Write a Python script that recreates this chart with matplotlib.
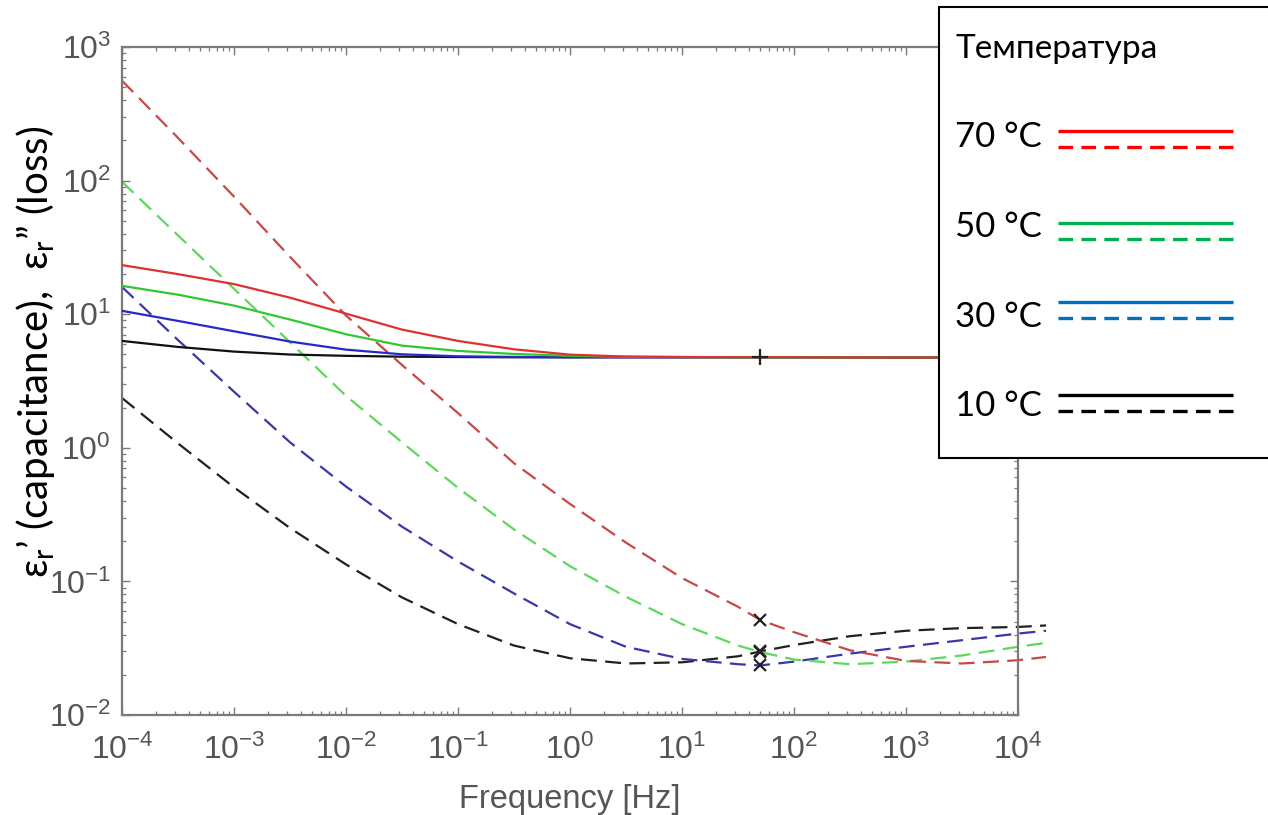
import matplotlib
matplotlib.use("Agg")
import matplotlib.pyplot as plt
from matplotlib.patches import Rectangle
from matplotlib.lines import Line2D
from matplotlib.ticker import (FixedLocator, LogLocator,
                               LogFormatterSciNotation, NullFormatter)

plt.rcParams["font.family"] = ["Liberation Sans", "DejaVu Sans"]
plt.rcParams["mathtext.fontset"] = "custom"
plt.rcParams["mathtext.rm"] = "Liberation Sans"
plt.rcParams["axes.unicode_minus"] = False
plt.rcParams["lines.scale_dashes"] = False

# ---- data -------------------------------------------------------------
freq_hz = [1e-4, 3.16e-4, 1e-3, 3.16e-3, 1e-2, 3.16e-2, 0.1, 0.316, 1.0,
           3.16, 10.0, 31.6, 50.0, 100.0, 316.0, 1000.0, 3160.0, 10000.0,
           17800.0]

# real part (capacitance)
cap_70 = [23.3, 19.95, 16.8, 13.3, 10.1, 7.67, 6.31, 5.46, 4.98, 4.82,
          4.78, 4.76, 4.76, 4.76, 4.75, 4.74, 4.73, 4.72, 4.72]
cap_50 = [16.3, 14.0, 11.6, 9.12, 7.08, 5.82, 5.31, 5.04, 4.88, 4.80,
          4.78, 4.76, 4.76, 4.76, 4.75, 4.74, 4.73, 4.72, 4.72]
cap_30 = [10.6, 8.91, 7.45, 6.24, 5.43, 5.01, 4.84, 4.79, 4.76, 4.76,
          4.76, 4.76, 4.76, 4.76, 4.75, 4.74, 4.73, 4.72, 4.72]
cap_10 = [6.31, 5.69, 5.25, 4.99, 4.88, 4.81, 4.78, 4.76, 4.76, 4.76,
          4.76, 4.76, 4.76, 4.76, 4.75, 4.74, 4.73, 4.72, 4.72]

# imaginary part (loss)
loss_70 = [560, 209, 75.9, 26.9, 9.77, 4.17, 1.82, 0.767, 0.380, 0.195,
           0.106, 0.0646, 0.0514, 0.0417, 0.0305, 0.0254, 0.0243, 0.0257,
           0.0272]
loss_50 = [98.0, 38.9, 15.5, 6.17, 2.45, 1.10, 0.501, 0.245, 0.130, 0.0767,
           0.0479, 0.0331, 0.0296, 0.0260, 0.0240, 0.0251, 0.0279, 0.0324,
           0.0347]
loss_30 = [16.0, 6.41, 2.63, 1.10, 0.513, 0.257, 0.141, 0.0813, 0.0479,
           0.0324, 0.0263, 0.0240, 0.0235, 0.0251, 0.0288, 0.0324, 0.0363,
           0.0407, 0.0427]
loss_10 = [2.36, 1.08, 0.506, 0.251, 0.134, 0.0759, 0.0479, 0.0331, 0.0266,
           0.0243, 0.0248, 0.0275, 0.0299, 0.0334, 0.0389, 0.0427, 0.0447,
           0.0456, 0.0468]

temp_labels = ["70 °C", "50 °C", "30 °C", "10 °C"]
marker_freq = 50.0
x_decades = [1e-4, 1e-3, 1e-2, 1e-1, 1e0, 1e1, 1e2, 1e3, 1e4]
y_decades = [1e-2, 1e-1, 1e0, 1e1, 1e2, 1e3]

# ---- figure -----------------------------------------------------------
W, H = 1268, 815
fig = plt.figure(figsize=(W / 100, H / 100), dpi=100)
ax = fig.add_axes([122 / W, 1 - 715 / H, 896 / W, 668 / H])
ax.set_xscale("log")
ax.set_yscale("log")

solid_cols = ["#e03030", "#30c830", "#2828c8", "#101010"]
dash_cols = ["#c84848", "#5cd85c", "#3838a8", "#202020"]
caps = [cap_70, cap_50, cap_30, cap_10]
losses = [loss_70, loss_50, loss_30, loss_10]

for loss, c in zip(losses[::-1], dash_cols[::-1]):
    ax.plot(freq_hz, loss, color=c, lw=1.6, dashes=(11.5, 6), clip_on=False,
            zorder=2)
for cap, c in zip(caps[::-1], solid_cols[::-1]):
    ax.plot(freq_hz, cap, color=c, lw=1.6, zorder=3)

i50 = freq_hz.index(marker_freq)
for loss in losses:
    ax.plot(marker_freq, loss[i50], "x", color="#222222", ms=9, mew=1.6,
            zorder=4)
ax.plot(marker_freq, cap_70[i50], "+", color="#222222", ms=11, mew=1.6,
        zorder=4)

ax.set_xlim(x_decades[0], x_decades[-1])
ax.set_ylim(y_decades[0], y_decades[-1])

axis_gray = "#7a7a7a"
text_gray = "#555555"
for s in ax.spines.values():
    s.set_color(axis_gray)
    s.set_linewidth(1.6)

ax.xaxis.set_major_locator(FixedLocator(x_decades))
ax.yaxis.set_major_locator(FixedLocator(y_decades))
ax.xaxis.set_minor_locator(LogLocator(base=10, subs=range(2, 10), numticks=20))
ax.yaxis.set_minor_locator(LogLocator(base=10, subs=range(2, 10), numticks=20))
ax.xaxis.set_major_formatter(LogFormatterSciNotation())
ax.yaxis.set_major_formatter(LogFormatterSciNotation())
ax.xaxis.set_minor_formatter(NullFormatter())
ax.yaxis.set_minor_formatter(NullFormatter())

ax.tick_params(which="both", direction="in", top=True, right=True,
               color=axis_gray, labelcolor=text_gray)
ax.tick_params(which="major", length=5.5, width=1.0, labelsize=23)
ax.tick_params(which="minor", length=3, width=0.9)
ax.tick_params(axis="x", which="major", pad=14)
ax.tick_params(axis="y", which="major", pad=8)

ax.set_xlabel("Frequency [Hz]", fontsize=23.5, color=text_gray)
ax.xaxis.set_label_coords(0.5, -0.103)
ax.set_ylabel("ε$_\\mathregular{r}$’ (capacitance),  ε$_\\mathregular{r}$” (loss)",
              fontsize=29, color="black", va="center", ha="center",
              family=["Lato", "Open Sans", "DejaVu Sans"])
ax.yaxis.set_label_coords((36 - 122) / 896, (715 - 352) / 668)


# ---- temperature key (drawn in figure pixels) -------------------------
def fx(px):
    return px / W


def fy(py):
    return 1 - py / H


key_font = ["Lato", "Open Sans", "DejaVu Sans"]
fig.add_artist(Rectangle((fx(939), fy(458)), fx(1290) - fx(939),
                         fy(7) - fy(458), transform=fig.transFigure,
                         facecolor="white", edgecolor="black", lw=1.5,
                         zorder=10))
fig.text(fx(955), fy(58), "Температура", fontsize=24, family=key_font,
         va="baseline", ha="left", zorder=11)

key_cols = ["#ff0000", "#00b050", "#0070c0", "#000000"]
text_base = [147, 237, 327, 416]
solid_y = [131, 223, 302, 395]
dash_y = [147, 239, 318, 411]
for lab, c, tb, sy, dy in zip(temp_labels, key_cols, text_base, solid_y, dash_y):
    fig.text(fx(955), fy(tb), lab, fontsize=25, family=key_font,
             va="baseline", ha="left", zorder=11)
    fig.add_artist(Line2D([fx(1058), fx(1233)], [fy(sy), fy(sy)],
                          transform=fig.transFigure, color=c, lw=2.4,
                          solid_capstyle="butt", zorder=11))
    fig.add_artist(Line2D([fx(1058), fx(1241)], [fy(dy), fy(dy)],
                          transform=fig.transFigure, color=c, lw=2.4,
                          dashes=(10.5, 6), dash_capstyle="butt", zorder=11))

fig.savefig("out.png", dpi=100)
